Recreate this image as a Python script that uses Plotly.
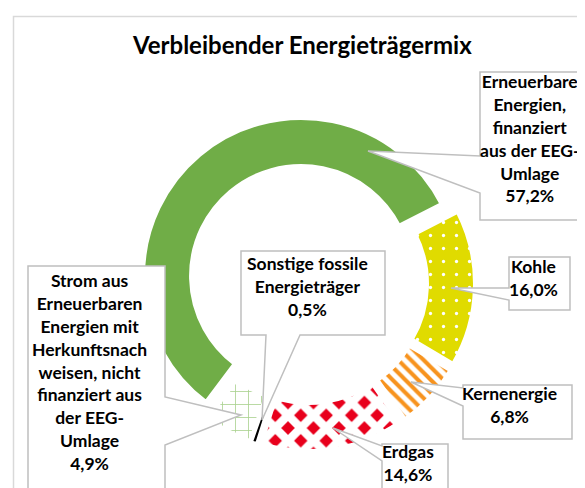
import plotly.graph_objects as go

# ---------------- data ----------------
title_text = "Verbleibender Energieträgermix"
names = [
    "Erneuerbare Energien, finanziert aus der EEG-Umlage",
    "Kohle",
    "Kernenergie",
    "Erdgas",
    "Sonstige fossile Energieträger",
    "Strom aus Erneuerbaren Energien mit Herkunftsnachweisen, nicht finanziert aus der EEG-Umlage",
]
values = [57.2, 16.0, 6.8, 14.6, 0.5, 4.9]
label_lines = [
    ["Erneuerbare", "Energien,", "finanziert", "aus der EEG-", "Umlage"],
    ["Kohle"],
    ["Kernenergie"],
    ["Erdgas"],
    ["Sonstige fossile", "Energieträger"],
    ["Strom aus", "Erneuerbaren", "Energien mit", "Herkunftsnach", "weisen, nicht",
     "finanziert aus", "der EEG-", "Umlage"],
]

# ---------------- styles ----------------
W, H = 585, 488
FONT = "Lato"
fill_colors = ["#70AD47", "#E0DB00", "#F7931E", "#E8001C", "#000000", "#A9D18E"]
pat_shape = ["", ".", "\\", "x", "", "+"]
pat_fg = ["#70AD47", "#FFFFFF", "#F7931E", "#FFFFFF", "#000000", "#A9D18E"]
pat_bg = ["#70AD47", "#E0DB00", "#FFFFFF", "#E8001C", "#000000", "#FFFFFF"]
pat_size = [8, 13, 9, 18, 8, 13]
pat_solid = [0.3, 0.05, 0.45, 0.72, 0.3, 0.12]
line_w = [4, 4, 4, 4, 2.5, 4]

# geometry (pixels)
cx, cy = 299.3, 275.4
r = 158.0
pull = 0.0614
half = r * (1 + pull)


def px(x):
    return x / W


def py(y):
    return 1 - y / H


fig = go.Figure()
fig.add_trace(go.Pie(
    labels=names,
    values=values,
    sort=False,
    direction="clockwise",
    rotation=217,
    hole=110 / 158,
    pull=[pull] * len(values),
    textinfo="none",
    hoverinfo="label+percent",
    showlegend=False,
    marker=dict(
        colors=fill_colors,
        line=dict(color="#FFFFFF", width=line_w),
        pattern=dict(shape=pat_shape, fgcolor=pat_fg, bgcolor=pat_bg,
                     size=pat_size, solidity=pat_solid, fillmode="replace"),
    ),
    domain=dict(x=[px(cx - half), px(cx + half)],
                y=[py(cy + half), py(cy - half)]),
))

# callout boxes: box x0,y0,x1,y1 ; pointer side ; base a,b ; tip ; text centre
callouts = [
    dict(box=(472, 64, 583, 212), side="left", base=(148, 185), tip=(360, 143), tc=(528, 138)),
    dict(box=(501, 249, 562, 302), side="left", base=(280, 292), tip=(443, 280), tc=(532, 277.5)),
    dict(box=(455, 377, 564, 431), side="left", base=(380, 398), tip=(403, 374), tc=(509, 405)),
    dict(box=(374, 436, 440, 492), side="left", base=(438, 453), tip=(325, 420), tc=(407, 463)),
    dict(box=(233, 243, 377, 327), side="bottom", base=(258, 292), tip=(254, 412), tc=(306, 286.5)),
    dict(box=(20, 258, 157, 483), side="right", base=(389, 437), tip=(233, 407), tc=(88, 371.5)),
]


def callout_path(c):
    x0, y0, x1, y1 = c["box"]
    a, b = c["base"]
    tx, ty = c["tip"]
    if c["side"] == "left":
        pts = [(x0, y0), (x1, y0), (x1, y1), (x0, y1), (x0, b), (tx, ty), (x0, a)]
    elif c["side"] == "right":
        pts = [(x0, y0), (x1, y0), (x1, a), (tx, ty), (x1, b), (x1, y1), (x0, y1)]
    else:  # bottom
        pts = [(x0, y0), (x1, y0), (x1, y1), (b, y1), (tx, ty), (a, y1), (x0, y1)]
    return "M " + " L ".join(f"{px(x):.5f},{py(y):.5f}" for x, y in pts) + " Z"


def pct(v):
    return f"{v:.1f}".replace(".", ",") + "%"


LABEL_SIZE = 17.5
LINE_BASE = 17.6   # ~22.9px line spacing
TEXT_SHIFT = 8     # px upward correction
X_SHIFT = -7       # px leftward correction
shapes = [dict(type="rect", xref="paper", yref="paper",
               x0=px(5.5), y0=py(8.5), x1=px(620), y1=py(520),
               line=dict(color="#D9D9D9", width=1.5), fillcolor="rgba(0,0,0,0)",
               layer="below")]
annotations = []
for i, c in enumerate(callouts):
    shapes.append(dict(type="path", xref="paper", yref="paper", path=callout_path(c),
                       fillcolor="#FFFFFF", line=dict(color="#BFBFBF", width=1.5),
                       layer="above"))
    lines = label_lines[i] + [pct(values[i])]
    txt = "<br>".join(f"<span style='font-size:{LABEL_SIZE}px'>{ln}</span>" for ln in lines)
    annotations.append(dict(
        x=px(c["tc"][0] + X_SHIFT), y=py(c["tc"][1] - TEXT_SHIFT), xref="paper", yref="paper",
        xanchor="center", yanchor="middle", showarrow=False, align="center",
        text=txt, font=dict(family=FONT, size=LINE_BASE, color="#000000", weight=700),
    ))

annotations.append(dict(
    x=px(301 + X_SHIFT), y=py(37), xref="paper", yref="paper", xanchor="center", yanchor="middle",
    showarrow=False, text=title_text,
    font=dict(family=FONT, size=24, color="#000000", weight=700),
))

fig.update_layout(
    width=W, height=H,
    margin=dict(l=0, r=0, t=0, b=0),
    paper_bgcolor="#FFFFFF",
    plot_bgcolor="#FFFFFF",
    shapes=shapes,
    annotations=annotations,
)

fig.write_html("out.html")
